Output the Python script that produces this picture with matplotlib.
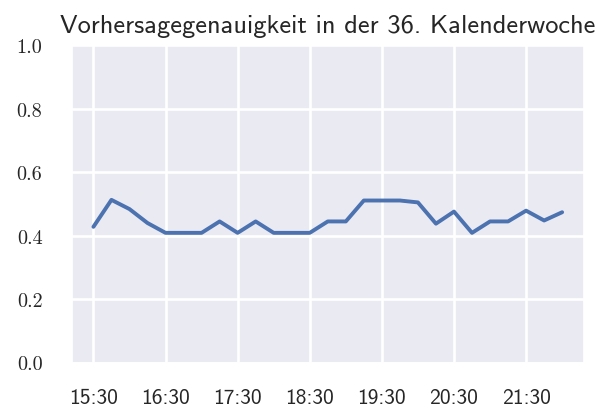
import matplotlib
matplotlib.use("Agg")
import matplotlib.pyplot as plt
import matplotlib.dates as mdates
import pandas as pd
import seaborn as sns

times = ["15:30", "15:45", "16:00", "16:15", "16:30", "16:45", "17:00", "17:15", "17:30",
         "17:45", "18:00", "18:15", "18:30", "18:45", "19:00", "19:15", "19:30", "19:45",
         "20:00", "20:15", "20:30", "20:45", "21:00", "21:15", "21:30", "21:45", "22:00"]
accuracy = [0.428, 0.513, 0.484, 0.440, 0.409, 0.409, 0.409, 0.445, 0.409,
            0.445, 0.409, 0.409, 0.409, 0.445, 0.445, 0.511, 0.511, 0.511,
            0.505, 0.438, 0.476, 0.409, 0.445, 0.445, 0.479, 0.448, 0.474]
y_ticks = [0.0, 0.2, 0.4, 0.6, 0.8, 1.0]
title = "Vorhersagegenauigkeit in der 36. Kalenderwoche"

sns.set_theme(style="darkgrid")

x = pd.to_datetime(["2020-09-01 " + t for t in times])

fig = plt.figure(figsize=(6.07, 4.10), dpi=100)
ax = fig.add_axes([0.118, 0.1134, 0.844, 0.7732])
ax.plot(x, accuracy, color="#4c72b0", linewidth=2.8)
ax.margins(x=0.0465)
ax.set_ylim(0, 1.0)
ax.set_yticks(y_ticks)
ax.set_yticklabels([f"{v:.1f}" for v in y_ticks])
ax.xaxis.set_major_locator(mdates.MinuteLocator(byminute=[30]))
ax.xaxis.set_major_formatter(mdates.DateFormatter("%H:%M"))
ax.tick_params(axis="y", pad=21, length=0, labelsize=14.5, labelfontfamily="cmr10")
ax.tick_params(axis="x", pad=18, length=0, labelsize=15.5, labelfontfamily="cmss10")
ax.grid(True, color="white", linewidth=1.9)
ax.set_title(title, fontfamily="cmss10", fontsize=19, pad=10)

fig.savefig("out.png", dpi=100)
